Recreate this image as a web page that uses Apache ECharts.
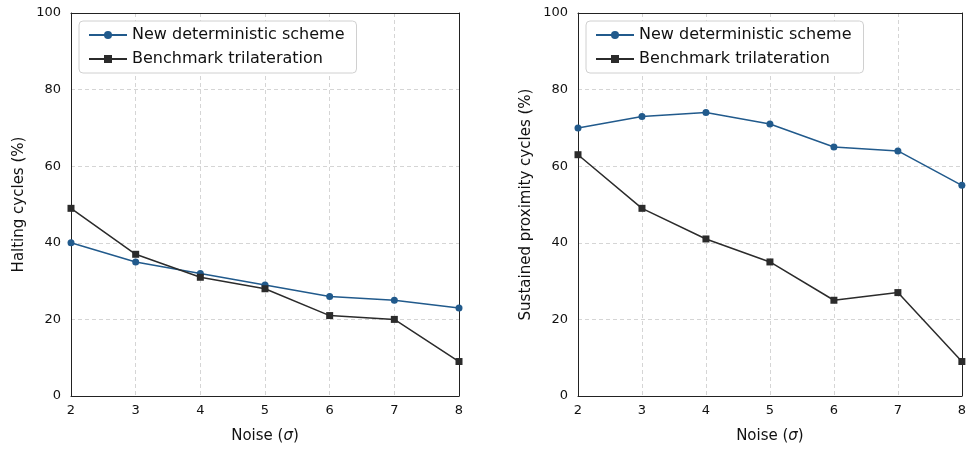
<!DOCTYPE html>
<html><head><meta charset="utf-8">
<script src="https://cdn.jsdelivr.net/npm/echarts@6/dist/echarts.min.js"></script>
<style>html,body{margin:0;padding:0;background:#fff}#c{width:969px;height:449px}</style>
</head><body><div id="c"></div>
<script>
const noise = [2, 3, 4, 5, 6, 7, 8];
const haltNew = [40, 35, 32, 29, 26, 25, 23];
const haltBench = [49, 37, 31, 28, 21, 20, 9];
const proxNew = [70, 73, 74, 71, 65, 64, 55];
const proxBench = [63, 49, 41, 35, 25, 27, 9];
const yTicks = [0, 20, 40, 60, 80, 100];
const seriesNames = ['New deterministic scheme', 'Benchmark trilateration'];

const blue = '#215a8c', dark = '#2b2b2b';
const font = 'DejaVu Sans';
const pair = (xs, ys) => xs.map((x, i) => [x, ys[i]]);
const frameLine = { show: true, onZero: false, lineStyle: { color: '#222', width: 1 } };

function xAxis(gi) {
  return {
    type: 'value', gridIndex: gi, min: 2, max: 8, interval: 1, position: 'bottom',
    name: '{a|Noise (}{b|σ}{a|)}', nameLocation: 'middle', nameGap: 33,
    nameTextStyle: { rich: { a: { fontFamily: font, fontSize: 15, color: '#111' }, b: { fontFamily: font, fontSize: 15, fontStyle: 'italic', color: '#111' } } },
    axisLine: frameLine,
    axisTick: { show: false },
    axisLabel: { fontFamily: font, fontSize: 13, color: '#111', margin: 8 },
    splitLine: { show: true, lineStyle: { color: '#d5d5d5', type: [4, 3], width: 1 } },
    z: 3
  };
}
function xTop(gi) {
  return { type: 'value', gridIndex: gi, min: 2, max: 8, interval: 1, position: 'top',
    axisLine: frameLine, axisTick: { show: false }, axisLabel: { show: false }, splitLine: { show: false }, z: 3 };
}
function yAxis(gi, name) {
  return {
    type: 'value', gridIndex: gi, min: 0, max: 100, interval: 20, position: 'left',
    name, nameLocation: 'middle', nameGap: 44,
    nameTextStyle: { fontFamily: font, fontSize: 15, color: '#111' },
    axisLine: frameLine,
    axisTick: { show: false },
    axisLabel: { fontFamily: font, fontSize: 13, color: '#111', margin: 10,
      formatter: v => yTicks.includes(v) ? String(v) : '' },
    splitLine: { show: true, lineStyle: { color: '#d5d5d5', type: [4, 3], width: 1 } },
    z: 3
  };
}
function yRight(gi) {
  return { type: 'value', gridIndex: gi, min: 0, max: 100, interval: 20, position: 'right',
    axisLine: frameLine, axisTick: { show: false }, axisLabel: { show: false }, splitLine: { show: false }, z: 3 };
}
function legend(left) {
  return {
    left, top: 21, orient: 'vertical', itemGap: 8, itemWidth: 38, itemHeight: 10,
    padding: [6, 12, 6, 9], borderColor: '#d0d0d0', borderWidth: 1, borderRadius: 4,
    backgroundColor: '#fff',
    textStyle: { fontFamily: font, fontSize: 16, color: '#111' },
    data: seriesNames.map(n => ({ name: n }))
  };
}
function line(name, data, gi, color, symbol, size) {
  return {
    type: 'line', name, xAxisIndex: gi * 2, yAxisIndex: gi * 2, data,
    symbol, symbolSize: size, showSymbol: true,
    lineStyle: { color, width: 1.5 }, itemStyle: { color },
    emphasis: { disabled: true }, animation: false
  };
}

const chart = echarts.init(document.getElementById('c'));
chart.setOption({
  animation: false,
  grid: [
    { left: 71, top: 13, width: 388, height: 385 },
    { left: 578, top: 13, width: 388, height: 385 }
  ],
  legend: [legend(79), legend(586)],
  xAxis: [xAxis(0), xTop(0), xAxis(1), xTop(1)],
  yAxis: [yAxis(0, 'Halting cycles (%)'), yRight(0), yAxis(1, 'Sustained proximity cycles (%)'), yRight(1)],
  series: [
    line(seriesNames[0], pair(noise, haltNew), 0, blue, 'circle', 7),
    line(seriesNames[1], pair(noise, haltBench), 0, dark, 'rect', 7),
    line(seriesNames[0], pair(noise, proxNew), 1, blue, 'circle', 7),
    line(seriesNames[1], pair(noise, proxBench), 1, dark, 'rect', 7)
  ]
});
</script></body></html>
